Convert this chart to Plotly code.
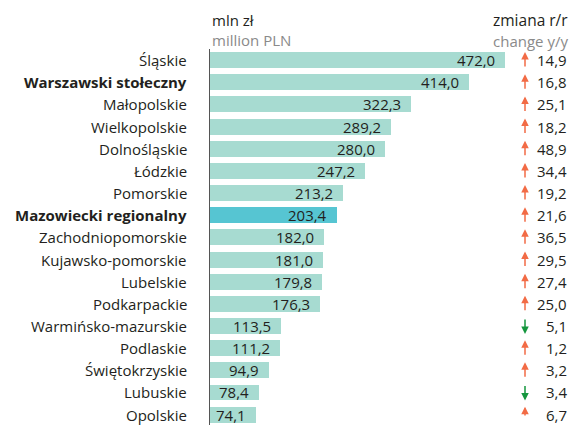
import plotly.graph_objects as go

regions = ["Śląskie", "Warszawski stołeczny", "Małopolskie", "Wielkopolskie",
           "Dolnośląskie", "Łódzkie", "Pomorskie", "Mazowiecki regionalny",
           "Zachodniopomorskie", "Kujawsko-pomorskie", "Lubelskie", "Podkarpackie",
           "Warmińsko-mazurskie", "Podlaskie", "Świętokrzyskie", "Lubuskie", "Opolskie"]
values = [472.0, 414.0, 322.3, 289.2, 280.0, 247.2, 213.2, 203.4,
          182.0, 181.0, 179.8, 176.3, 113.5, 111.2, 94.9, 78.4, 74.1]
change = [14.9, 16.8, 25.1, 18.2, 48.9, 34.4, 19.2, 21.6,
          36.5, 29.5, 27.4, 25.0, -5.1, 1.2, 3.2, -3.4, 6.7]
bold_regions = {"Warszawski stołeczny", "Mazowiecki regionalny"}
highlight = "Mazowiecki regionalny"

FONT = "Open Sans"
FS = 15
TXT = "#231f20"
GREY = "#8a8a8a"
BAR = "#a7dbd1"
BAR_HI = "#56c5d2"
UP = "#f26b45"
DOWN = "#14963e"

def pl(v):
    return f"{abs(v):.1f}".replace(".", ",")

ys = list(range(len(regions)))
colors = [BAR_HI if r == highlight else BAR for r in regions]

fig = go.Figure(go.Bar(
    x=values, y=ys, orientation="h", width=0.72,
    marker=dict(color=colors, line=dict(width=0)),
    hoverinfo="skip",
))

ann = []
x_arrow = 504
x_val = 571
for i, (r, v, c) in enumerate(zip(regions, values, change)):
    label = f"<b>{r}</b>" if r in bold_regions else r
    ann.append(dict(x=0, y=i, xref="x", yref="y", text=label, showarrow=False,
                    xanchor="right", xshift=-21, font=dict(family=FONT, size=FS, color=TXT)))
    ann.append(dict(x=v, y=i, xref="x", yref="y", text=pl(v), showarrow=False,
                    xanchor="right", xshift=-8, font=dict(family=FONT, size=FS, color=TXT)))
    up = c >= 0
    ann.append(dict(x=x_arrow, y=i, xref="x", yref="y", text="", showarrow=True,
                    arrowhead=2, arrowsize=1.0, arrowwidth=1.5,
                    arrowcolor=UP if up else DOWN,
                    ax=0, ay=16 if up else -16, yshift=8 if up else -8,
                    standoff=0, startstandoff=0))
    ann.append(dict(x=x_val, y=i, xref="x", yref="y", text=pl(c), showarrow=False,
                    xanchor="right", xshift=2, font=dict(family=FONT, size=FS, color=TXT)))

# column headers (positions in pixels, converted to paper units below)
HFS = 15
ann += [
    dict(x=211, y=19, xref="paper", yref="paper", text="mln zł", showarrow=False,
         xanchor="left", yanchor="middle", borderpad=0,
         font=dict(family=FONT, size=HFS, color=TXT)),
    dict(x=211, y=39, xref="paper", yref="paper", text="million PLN", showarrow=False,
         xanchor="left", yanchor="middle", borderpad=0,
         font=dict(family=FONT, size=HFS, color=GREY)),
    dict(x=569, y=19, xref="paper", yref="paper", text="zmiana r/r", showarrow=False,
         xanchor="right", yanchor="middle", borderpad=0,
         font=dict(family=FONT, size=HFS + 0.5, color=TXT)),
    dict(x=569, y=40, xref="paper", yref="paper", text="change y/y", showarrow=False,
         xanchor="right", yanchor="middle", borderpad=0,
         font=dict(family=FONT, size=HFS, color=GREY)),
]

W, H = 571, 425
top, left, bottom = 48.5, 210, 0
row_h = 22.19
plot_h = H - top - bottom
for a in ann:
    if a.get("xref") == "paper":
        a["x"] = (a["x"] - left) / (W - left)
        a["y"] = (H - bottom - a["y"]) / plot_h

fig.update_layout(
    width=W, height=H,
    margin=dict(l=left, r=0, t=top, b=bottom, pad=0),
    paper_bgcolor="white", plot_bgcolor="white",
    showlegend=False, bargap=0,
    xaxis=dict(range=[0, (W - left) / 0.625], visible=False, fixedrange=True),
    yaxis=dict(range=[-0.5 + plot_h / row_h, -0.5], showticklabels=False, ticks="",
               showgrid=False, zeroline=False, showline=True, linecolor="#555555",
               linewidth=1, fixedrange=True),
    annotations=ann,
)

fig.write_html("out.html", config={"displayModeBar": False})
